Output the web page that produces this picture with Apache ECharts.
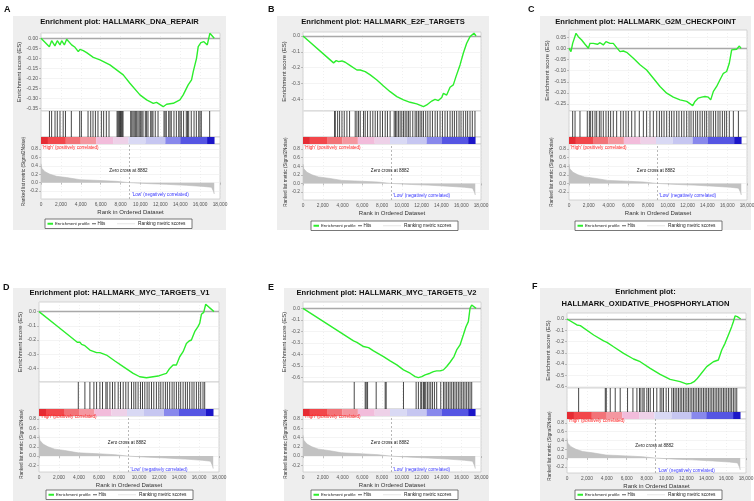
<!doctype html>
<html>
<head>
<meta charset="utf-8">
<title>GSEA enrichment plots</title>
<script src="https://cdn.jsdelivr.net/npm/echarts@6/dist/echarts.min.js"></script>
<style>
  html, body { margin: 0; padding: 0; background: #fff; }
  #main { width: 754px; height: 501px; }
</style>
</head>
<body>
<div id="main"></div>
<script>
// shared by every panel: x ticks, ranked list metric, colour bar
var rankTicks = [0, 2000, 4000, 6000, 8000, 10000, 12000, 14000, 16000, 18000];
var metricRank = [0, 80, 170, 400, 900, 1570, 2580, 3920, 5930, 7600, 8882, 10950, 12630, 14640, 16310, 17150, 17250, 17350, 17420];
var metricVal = [0.45, 0.34, 0.30, 0.26, 0.20, 0.15, 0.12, 0.07, 0.05, 0.03, 0.0, -0.025, -0.04, -0.065, -0.09, -0.11, -0.15, -0.21, -0.27];
var metricTicks = [0.8, 0.6, 0.4, 0.2, 0.0, -0.2];
var zeroCross = 8882;
var bandStart = [0, 700, 2500, 4000, 5550, 7250, 8800, 10500, 12500, 14000, 16700];
var bandEnd = [700, 2500, 4000, 5550, 7250, 8800, 10500, 12500, 14000, 16700, 17450];
var bandColors = ['#e52b33', '#f2474b', '#f27378', '#f497a0', '#f2bcdb', '#eed1e8', '#d9d9f4', '#c6c6f1', '#8888ec', '#5555e3', '#1c16c8'];
var noteText = ["'High' (positively correlated)", 'Zero cross at 8882', "'Low' (negatively correlated)"];
var noteRank = [150, 8800, 12000];
var noteVal = [0.84, 0.29, -0.29];

// A  DNA repair
var titleA = ['Enrichment plot: HALLMARK_DNA_REPAIR'];
var esTicksA = [0, -0.05, -0.10, -0.15, -0.20, -0.25, -0.30, -0.35];
var esRankA = [0, 840, 1070, 1400, 1640, 1910, 2080, 2350, 2580, 3080, 3420, 3750, 3920, 4250, 4590, 5260, 5930, 6930, 8270, 8940, 9950, 10620, 11290, 11620, 12290, 12630, 13300, 13970, 14300, 14800, 15140, 15310, 15640, 15810, 16080, 16380, 16720, 16980, 17420];
var esValA = [0, -0.042, -0.012, -0.038, -0.012, -0.033, -0.012, -0.033, -0.005, -0.033, -0.045, -0.067, -0.055, -0.062, -0.072, -0.095, -0.108, -0.133, -0.183, -0.225, -0.283, -0.308, -0.325, -0.320, -0.342, -0.330, -0.325, -0.308, -0.283, -0.233, -0.208, -0.167, -0.100, -0.042, -0.022, -0.017, -0.033, 0.025, 0.0];
var hitsA = [850, 1070, 1410, 1640, 1910, 2230, 2460, 3050, 3890, 4060, 4730, 5000, 5230, 5470, 5730, 6070, 6300, 6570, 6840, 7650, 7740, 7830, 7910, 8000, 8080, 8170, 8250, 9020, 9130, 9250, 9370, 9490, 9620, 9750, 9880, 10020, 10140, 10260, 10490, 10620, 10760, 11030, 11150, 11260, 11490, 11770, 12370, 12480, 12600, 12840, 12970, 13100, 13370, 13610, 13850, 13980, 14110, 14340, 14610, 14730, 14850, 15110, 15390, 15620, 15860, 15990, 16120, 16960];

// B  E2F targets
var titleB = ['Enrichment plot: HALLMARK_E2F_TARGETS'];
var esTicksB = [0, -0.1, -0.2, -0.3, -0.4];
var esRankB = [0, 3090, 3200, 3360, 3600, 3940, 4270, 4780, 5450, 5790, 6290, 6800, 7470, 8140, 8810, 9490, 10160, 10830, 11500, 12180, 12510, 13020, 13350, 13690, 14030, 14200, 14530, 14870, 15200, 15470, 15880, 16210, 16550, 16890, 17290, 17500];
var esValB = [0, -0.170, -0.179, -0.156, -0.162, -0.158, -0.166, -0.187, -0.215, -0.215, -0.225, -0.246, -0.278, -0.316, -0.352, -0.383, -0.404, -0.419, -0.429, -0.446, -0.436, -0.411, -0.400, -0.408, -0.389, -0.362, -0.373, -0.324, -0.309, -0.257, -0.183, -0.109, -0.046, -0.004, 0.017, 0.0];
var hitsB = [3200, 3260, 3500, 3700, 3940, 4170, 4440, 4710, 5280, 5450, 5620, 5790, 6120, 6290, 6530, 6800, 7060, 7300, 7540, 7800, 8040, 8310, 8540, 8810, 9220, 9350, 9490, 9650, 9820, 9990, 10160, 10330, 10500, 10660, 10830, 11100, 11340, 11500, 11670, 11840, 12010, 12180, 12410, 12620, 12850, 13090, 13360, 13590, 13860, 14100, 14360, 14600, 14870, 15100, 15310, 15540, 15780, 15980, 16210, 16450, 16650, 16890, 17120, 17390];

// C  G2M checkpoint
var titleC = ['Enrichment plot: HALLMARK_G2M_CHECKPOINT'];
var esTicksC = [0.05, 0, -0.05, -0.10, -0.15, -0.20, -0.25];
var esRankC = [0, 200, 370, 500, 710, 940, 1280, 1620, 1960, 2120, 2460, 2630, 2870, 3140, 3470, 3740, 4150, 4480, 4820, 5160, 5490, 5830, 6510, 7180, 7850, 8530, 9200, 9880, 10550, 11230, 11900, 12510, 12740, 13080, 13420, 13750, 14090, 14330, 14600, 14930, 15270, 15610, 15940, 16210, 16450, 16620, 16950, 17230, 17400];
var esValC = [0, -0.015, 0.022, 0.015, 0.067, 0.052, 0.037, 0.018, 0.0, 0.022, 0.022, 0.030, 0.018, 0.025, 0.015, 0.030, 0.022, 0.022, 0.003, -0.015, -0.012, -0.018, -0.045, -0.074, -0.097, -0.134, -0.171, -0.201, -0.219, -0.231, -0.238, -0.257, -0.238, -0.223, -0.219, -0.216, -0.219, -0.231, -0.193, -0.171, -0.141, -0.112, -0.104, -0.067, -0.007, 0.0, -0.004, 0.010, 0.0];
var hitsC = [370, 610, 1110, 1850, 2060, 2190, 2390, 2630, 2800, 3070, 3240, 3470, 3740, 3980, 4210, 4480, 4820, 5230, 5490, 5760, 6000, 6340, 6670, 7110, 7520, 7850, 8190, 8530, 8870, 9140, 9370, 9610, 9880, 10150, 10380, 10620, 10890, 11120, 11390, 11630, 11900, 12140, 12340, 12570, 12810, 13010, 13250, 13480, 13720, 13920, 14160, 14360, 14600, 14830, 15070, 15270, 15510, 15740, 15940, 16210, 16620, 17130];

// D  MYC targets V1
var titleD = ['Enrichment plot: HALLMARK_MYC_TARGETS_V1'];
var esTicksD = [0, -0.1, -0.2, -0.3, -0.4];
var esRankD = [0, 1930, 3830, 4090, 4260, 4590, 5090, 5760, 6090, 6750, 7590, 8420, 9420, 10080, 10750, 11410, 11910, 12410, 12740, 13070, 13410, 13740, 14070, 14410, 14740, 15010, 15240, 15570, 15900, 16070, 16240, 16470, 16670, 17500];
var esValD = [0, -0.108, -0.216, -0.216, -0.231, -0.240, -0.271, -0.289, -0.289, -0.306, -0.348, -0.388, -0.435, -0.459, -0.466, -0.459, -0.454, -0.442, -0.435, -0.400, -0.376, -0.376, -0.318, -0.282, -0.224, -0.207, -0.200, -0.141, -0.106, -0.082, -0.019, -0.005, 0.052, 0.0];
var hitsD = [3930, 4590, 5090, 5490, 5760, 6090, 6350, 6690, 6820, 7090, 7350, 7590, 7920, 8150, 8420, 8680, 8920, 9250, 9480, 9680, 9910, 10150, 10350, 10580, 10810, 11010, 11250, 11480, 11740, 11980, 12180, 12410, 12640, 12840, 13070, 13310, 13510, 13740, 13970, 14170, 14410, 14640, 14840, 15070, 15300, 15500, 15740, 15970, 16170, 16400, 16570];

// E  MYC targets V2
var titleE = ['Enrichment plot: HALLMARK_MYC_TARGETS_V2'];
var esTicksE = [0, -0.1, -0.2, -0.3, -0.4, -0.5, -0.6];
var esRankE = [0, 5110, 5450, 6120, 6290, 6630, 7130, 8140, 8810, 9490, 10160, 10830, 11340, 11670, 12010, 12350, 12850, 13190, 13520, 13860, 14030, 14200, 14530, 14870, 15270, 15540, 15880, 16210, 16480, 16720, 16890, 17060, 17500];
var esValE = [0, -0.282, -0.294, -0.331, -0.340, -0.340, -0.369, -0.418, -0.455, -0.490, -0.533, -0.562, -0.591, -0.600, -0.591, -0.576, -0.562, -0.548, -0.542, -0.542, -0.553, -0.533, -0.504, -0.467, -0.418, -0.360, -0.317, -0.231, -0.159, -0.115, 0.0, 0.029, 0.0];
var hitsE = [5180, 6290, 6390, 6530, 7400, 8310, 8410, 10160, 11440, 11670, 11910, 12010, 12180, 12280, 12410, 12580, 12750, 12920, 13090, 13290, 13520, 13930, 14200, 14360, 14530, 14700, 14870, 15040, 15210, 15370, 15540, 15710, 15880, 16050, 16210, 16380, 16550, 16720, 16890, 17060];

// F  oxidative phosphorylation
var titleF = ['Enrichment plot:', 'HALLMARK_OXIDATIVE_PHOSPHORYLATION'];
var esTicksF = [0, -0.1, -0.2, -0.3, -0.4, -0.5, -0.6];
var esRankF = [0, 1000, 1170, 1340, 2680, 3680, 4020, 4680, 5690, 6690, 7360, 8370, 9370, 10370, 11380, 12050, 12450, 12780, 13050, 13380, 14050, 14720, 15220, 15560, 15890, 16230, 16560, 16730, 16900, 17130, 17470];
var esValF = [0, -0.053, -0.038, -0.059, -0.142, -0.195, -0.207, -0.246, -0.305, -0.355, -0.379, -0.438, -0.491, -0.536, -0.556, -0.577, -0.571, -0.556, -0.533, -0.497, -0.423, -0.379, -0.364, -0.275, -0.216, -0.142, -0.068, -0.024, 0.027, 0.021, 0.0];
var hitsF = [1170, 3850, 3950, 4350, 4850, 5350, 6090, 6630, 7030, 7290, 7430, 7630, 7760, 8030, 8200, 8370, 8700, 9030, 9370, 9540, 9700, 9970, 10210, 10540, 10710, 10870, 11040, 11210, 11380, 11540, 11710, 11880, 12050, 12210, 12380, 12550, 12710, 12880, 13050, 13220, 13380, 13550, 13720, 13890, 14050, 14220, 14390, 14560, 14720, 14890, 15060, 15220, 15390, 15560, 15730, 15890, 16060, 16230, 16400, 16560, 16730, 16900, 17070];

// page layout of each panel (pixels)
var panels = [
  {letter: 'A', title: titleA, esRank: esRankA, esVal: esValA, hits: hitsA, esTicks: esTicksA, dec: 2,
   lay: {bg: [13, 16, 213, 214], letter: [4, 5], titleY: [22], left: 41, width: 179, esTop: 33, esBottom: 111, hitsBottom: 137, barBottom: 144, rankBottom: 199, esMin: -0.3635, esMax: 0.0265, rmMin: -0.39, rmMax: 0.92, legend: [45, 219]}},
  {letter: 'B', title: titleB, esRank: esRankB, esVal: esValB, hits: hitsB, esTicks: esTicksB, dec: 1,
   lay: {bg: [277, 16, 212, 214], letter: [268, 5], titleY: [22], left: 303, width: 178, esTop: 32, esBottom: 111, hitsBottom: 137, barBottom: 144, rankBottom: 200, esMin: -0.474, esMax: 0.025, rmMin: -0.386, rmMax: 0.916, legend: [311, 221]}},
  {letter: 'C', title: titleC, esRank: esRankC, esVal: esValC, hits: hitsC, esTicks: esTicksC, dec: 2,
   lay: {bg: [540, 16, 211, 214], letter: [528, 5], titleY: [22], left: 569, width: 178, esTop: 30, esBottom: 111, hitsBottom: 137, barBottom: 144, rankBottom: 200, esMin: -0.281, esMax: 0.082, rmMin: -0.386, rmMax: 0.916, legend: [575, 221]}},
  {letter: 'D', title: titleD, esRank: esRankD, esVal: esValD, hits: hitsD, esTicks: esTicksD, dec: 1,
   lay: {bg: [13, 288, 213, 213], letter: [3, 283], titleY: [293], left: 39, width: 180, esTop: 302, esBottom: 382, hitsBottom: 409, barBottom: 416, rankBottom: 472, esMin: -0.496, esMax: 0.068, rmMin: -0.343, rmMax: 0.864, legend: [46, 490]}},
  {letter: 'E', title: titleE, esRank: esRankE, esVal: esValE, hits: hitsE, esTicks: esTicksE, dec: 1,
   lay: {bg: [284, 288, 205, 213], letter: [268, 283], titleY: [293], left: 303, width: 178, esTop: 302, esBottom: 382, hitsBottom: 409, barBottom: 416, rankBottom: 472, esMin: -0.638, esMax: 0.055, rmMin: -0.343, rmMax: 0.864, legend: [311, 490]}},
  {letter: 'F', title: titleF, esRank: esRankF, esVal: esValF, hits: hitsF, esTicks: esTicksF, dec: 1,
   lay: {bg: [540, 288, 211, 213], letter: [532, 282], titleY: [292, 304], left: 567, width: 179, esTop: 313, esBottom: 388, hitsBottom: 412, barBottom: 419, rankBottom: 473, esMin: -0.612, esMax: 0.053, rmMin: -0.34, rmMax: 0.89, legend: [575, 490]}}
];

var FONT = 'Liberation Sans, Arial, sans-serif';
var GREEN = '#2cee2c';

function zip(a, b) { return a.map(function (v, i) { return [v, b[i]]; }); }
function fmtRank(v) { return String(v).replace(/\B(?=(\d{3})+(?!\d))/g, ','); }

var grids = [], xAxes = [], yAxes = [], series = [], graphics = [];

function hiddenX(gi, split) {
  return {type: 'value', gridIndex: gi, min: 0, max: 18000, interval: 2000,
    axisLabel: {show: false}, axisTick: {show: false}, axisLine: {show: false},
    splitLine: {show: split, lineStyle: {color: '#e6e6e6', width: 0.6, type: [1, 2]}}};
}

panels.forEach(function (p) {
  var L = p.lay;
  var g0 = grids.length;

  graphics.push({type: 'rect', z: -5, shape: {x: L.bg[0], y: L.bg[1], width: L.bg[2], height: L.bg[3]}, style: {fill: '#eeeeee'}});
  graphics.push({type: 'text', x: L.letter[0], y: L.letter[1], style: {text: p.letter, fontSize: 9, fontWeight: 'bold', fontFamily: FONT, fill: '#111', verticalAlign: 'top'}});
  p.title.forEach(function (t, i) {
    graphics.push({type: 'text', x: L.bg[0] + L.bg[2] / 2, y: L.titleY[i], style: {text: t, fontSize: 7.6, fontWeight: 'bold', fontFamily: FONT, fill: '#111', align: 'center', verticalAlign: 'middle'}});
  });

  // legend box
  var lx = L.legend[0], ly = L.legend[1];
  graphics.push({type: 'group', x: lx, y: ly, children: [
    {type: 'rect', shape: {x: 0, y: 0, width: 147, height: 9.5}, style: {fill: '#fff', stroke: '#555', lineWidth: 0.8}},
    {type: 'line', shape: {x1: 2.5, y1: 4.75, x2: 8, y2: 4.75}, style: {stroke: GREEN, lineWidth: 2}},
    {type: 'text', x: 10, y: 4.9, style: {text: 'Enrichment profile', fontSize: 4.3, fontFamily: FONT, fill: '#222', verticalAlign: 'middle'}},
    {type: 'line', shape: {x1: 47, y1: 4.75, x2: 51, y2: 4.75}, style: {stroke: '#333', lineWidth: 0.8}},
    {type: 'text', x: 52.5, y: 4.9, style: {text: 'Hits', fontSize: 4.5, fontFamily: FONT, fill: '#222', verticalAlign: 'middle'}},
    {type: 'line', shape: {x1: 72, y1: 4.75, x2: 90, y2: 4.75}, style: {stroke: '#e4e4e4', lineWidth: 1}},
    {type: 'text', x: 93, y: 4.9, style: {text: 'Ranking metric scores', fontSize: 4.8, fontFamily: FONT, fill: '#222', verticalAlign: 'middle'}}
  ]});

  var box = {left: L.left, width: L.width, show: true, backgroundColor: '#fff', borderColor: '#c9c9c9', borderWidth: 0.8, containLabel: false, outerBoundsMode: 'none'};
  grids.push(Object.assign({}, box, {top: L.esTop, height: L.esBottom - L.esTop}));
  grids.push(Object.assign({}, box, {top: L.esBottom, height: L.hitsBottom - L.esBottom}));
  grids.push(Object.assign({}, box, {top: L.hitsBottom, height: L.barBottom - L.hitsBottom}));
  grids.push(Object.assign({}, box, {top: L.barBottom, height: L.rankBottom - L.barBottom}));

  // enrichment score
  xAxes.push(hiddenX(g0, true));
  yAxes.push({type: 'value', gridIndex: g0, min: L.esMin, max: L.esMax,
    name: 'Enrichment score (ES)', nameLocation: 'middle', nameGap: 15,
    nameTextStyle: {fontSize: 6, fontFamily: FONT, color: '#333'},
    axisLine: {show: false},
    axisTick: {show: true, customValues: p.esTicks, length: 2, lineStyle: {color: '#999', width: 0.6}},
    axisLabel: {customValues: p.esTicks, fontSize: 5, fontFamily: FONT, color: '#555', margin: 3,
      formatter: function (v) { return v.toFixed(p.dec); }},
    splitLine: {show: true, lineStyle: {color: '#ececec', width: 0.6}}});
  series.push({type: 'line', xAxisIndex: xAxes.length - 1, yAxisIndex: yAxes.length - 1,
    data: zip(p.esRank, p.esVal), showSymbol: false, symbol: 'none', z: 5,
    lineStyle: {color: GREEN, width: 1.4},
    markLine: {silent: true, symbol: 'none', label: {show: false}, data: [{yAxis: 0}],
      lineStyle: {color: '#a9a9a9', width: 1.3, type: 'solid'}}});

  // hits
  xAxes.push(hiddenX(g0 + 1, true));
  yAxes.push({type: 'value', gridIndex: g0 + 1, min: 0, max: 1, show: false});
  series.push({type: 'custom', xAxisIndex: xAxes.length - 1, yAxisIndex: yAxes.length - 1,
    data: p.hits.map(function (h) { return [h, 0]; }), encode: {x: 0, y: 1},
    renderItem: function (params, api) {
      var c = api.coord([api.value(0), 0]);
      var cs = params.coordSys;
      return {type: 'line', shape: {x1: c[0], y1: cs.y, x2: c[0], y2: cs.y + cs.height},
        style: {stroke: '#000', opacity: 0.72, lineWidth: 1}};
    }});

  // colour bar
  xAxes.push(hiddenX(g0 + 2, false));
  yAxes.push({type: 'value', gridIndex: g0 + 2, min: 0, max: 1, show: false});
  series.push({type: 'custom', xAxisIndex: xAxes.length - 1, yAxisIndex: yAxes.length - 1,
    data: bandStart.map(function (s, i) { return [s, bandEnd[i], i]; }), encode: {x: [0, 1]},
    renderItem: function (params, api) {
      var a = api.coord([api.value(0), 1]);
      var b = api.coord([api.value(1), 0]);
      return {type: 'rect', shape: {x: a[0], y: a[1], width: b[0] - a[0], height: b[1] - a[1]},
        style: {fill: bandColors[api.value(2)]}};
    }});

  // ranked list metric
  xAxes.push({type: 'value', gridIndex: g0 + 3, min: 0, max: 18000, interval: 2000,
    name: 'Rank in Ordered Dataset', nameLocation: 'middle', nameGap: 10,
    nameTextStyle: {fontSize: 6, fontFamily: FONT, color: '#333'},
    axisLine: {show: false},
    axisTick: {show: true, length: 2, lineStyle: {color: '#999', width: 0.6}},
    axisLabel: {fontSize: 4.8, fontFamily: FONT, color: '#555', margin: 3, formatter: fmtRank},
    splitLine: {show: true, lineStyle: {color: '#e6e6e6', width: 0.6, type: [1, 2]}}});
  yAxes.push({type: 'value', gridIndex: g0 + 3, min: L.rmMin, max: L.rmMax,
    name: 'Ranked list metric (Signal2Noise)', nameLocation: 'middle', nameGap: 13,
    nameTextStyle: {fontSize: 4.7, fontFamily: FONT, color: '#333'},
    axisLine: {show: false},
    axisTick: {show: true, customValues: metricTicks, length: 2, lineStyle: {color: '#999', width: 0.6}},
    axisLabel: {customValues: metricTicks, fontSize: 4.8, fontFamily: FONT, color: '#555', margin: 3,
      formatter: function (v) { return v.toFixed(1); }},
    splitLine: {show: true, lineStyle: {color: '#ececec', width: 0.6}}});
  series.push({type: 'line', xAxisIndex: xAxes.length - 1, yAxisIndex: yAxes.length - 1,
    data: zip(metricRank, metricVal), showSymbol: false, symbol: 'none',
    lineStyle: {color: '#bcbcbc', width: 0.6}, areaStyle: {color: '#c2c2c2', opacity: 1},
    markLine: {silent: true, symbol: 'none', label: {show: false}, data: [{xAxis: zeroCross}],
      lineStyle: {color: '#9a9a9a', width: 0.7, type: [2, 2]}}});
  series.push({type: 'custom', xAxisIndex: xAxes.length - 1, yAxisIndex: yAxes.length - 1,
    data: noteRank.map(function (r, i) { return [r, noteVal[i], i]; }), encode: {x: 0, y: 1}, z: 6,
    renderItem: function (params, api) {
      var i = api.value(2);
      var c = api.coord([api.value(0), api.value(1)]);
      return {type: 'text', x: c[0], y: c[1],
        style: {text: noteText[i], fontSize: 4.6, fontFamily: FONT,
          fill: ['#ff2222', '#222222', '#3a3aff'][i], align: i === 0 ? 'left' : 'center', verticalAlign: 'middle'}};
    }});
});

var chart = echarts.init(document.getElementById('main'));
chart.setOption({
  animation: false,
  backgroundColor: '#ffffff',
  grid: grids,
  xAxis: xAxes,
  yAxis: yAxes,
  series: series,
  graphic: {elements: graphics}
});
</script>
</body>
</html>
